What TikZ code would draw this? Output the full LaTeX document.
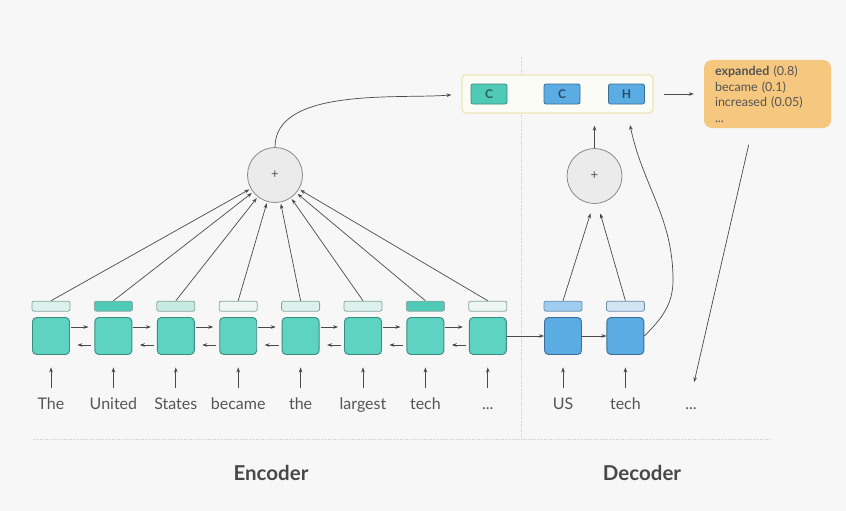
\documentclass[tikz,border=0pt]{standalone}
\usepackage{fontspec}
\setmainfont{Lato}
\usepackage{tikz}
\usetikzlibrary{arrows.meta, positioning, shapes}

\definecolor{bgcol}{HTML}{F7F7F7}
\definecolor{tealcell}{HTML}{5ED3C2}
\definecolor{tealline}{HTML}{3E8A7F}
\definecolor{bluecell}{HTML}{5AACE3}
\definecolor{blueline}{HTML}{3A6E96}
\definecolor{tealdark}{HTML}{4ECAB6}
\definecolor{tealmid}{HTML}{C6EBE1}
\definecolor{tealpale}{HTML}{DDF1EC}
\definecolor{tealwhite}{HTML}{EEF6F4}
\definecolor{barline}{HTML}{8AA8A2}
\definecolor{bluemid}{HTML}{9FCDF0}
\definecolor{bluepale}{HTML}{D0E4F4}
\definecolor{bluebarline}{HTML}{6A8FAE}
\definecolor{arrcol}{HTML}{4A4A4A}
\definecolor{txtgray}{HTML}{555555}
\definecolor{circfill}{HTML}{EBEBEB}
\definecolor{circline}{HTML}{8A8A8A}
\definecolor{ctxline}{HTML}{EDE6B8}
\definecolor{ctxfill}{HTML}{FCFCF6}
\definecolor{outfill}{HTML}{F6C77E}
\definecolor{dotcol}{HTML}{D2D2D2}

\tikzset{
  cell/.style={rounded corners=4pt, minimum width=37pt, minimum height=37pt, inner sep=0pt, line width=0.9pt},
  enc/.style={cell, fill=tealcell, draw=tealline},
  dec/.style={cell, fill=bluecell, draw=blueline},
  bar/.style={rounded corners=2pt, minimum width=38pt, minimum height=10pt, inner sep=0pt, line width=0.8pt, draw=barline},
  dbar/.style={bar, draw=bluebarline},
  word/.style={text=txtgray, font=\fontsize{16}{19}\selectfont, text height=11pt, text depth=3pt, inner sep=2pt},
  sum/.style={circle, draw=circline, fill=circfill, minimum size=55pt, inner sep=0pt, line width=0.8pt, text=txtgray, font=\fontsize{13}{15}\selectfont},
  vec/.style={rounded corners=2pt, minimum width=36pt, minimum height=20pt, inner sep=0pt, line width=0.8pt, font=\fontsize{12}{14}\selectfont\bfseries},
  arr/.style={draw=arrcol, line width=0.7pt}
}

\begin{document}
\begin{tikzpicture}[x=1pt, y=-1pt, node distance=62.4pt, >={Stealth[length=5pt,width=3.6pt]}]
\fill[bgcol] (0,0) rectangle (846,511);
\useasboundingbox (0,0) rectangle (846,511);

% dotted separators
\draw[dotcol, densely dotted, line width=0.8pt] (33,439) -- (770,439);
\draw[dotcol, densely dotted, line width=0.8pt] (521,57) -- (521,439);

% encoder cells
\node[enc] (e1) at (51,336) {};
\node[enc, right of=e1] (e2) {};
\node[enc, right of=e2] (e3) {};
\node[enc, right of=e3] (e4) {};
\node[enc, right of=e4] (e5) {};
\node[enc, right of=e5] (e6) {};
\node[enc, right of=e6] (e7) {};
\node[enc, right of=e7] (e8) {};

% decoder cells
\node[dec] (d1) at (563,336) {};
\node[dec, right of=d1] (d2) {};

% attention bars
\node[bar, fill=tealpale, above=5.5pt of e1] (b1) {};
\node[bar, fill=tealdark, above=5.5pt of e2] (b2) {};
\node[bar, fill=tealmid, above=5.5pt of e3] (b3) {};
\node[bar, fill=tealwhite, above=5.5pt of e4] (b4) {};
\node[bar, fill=tealpale, above=5.5pt of e5] (b5) {};
\node[bar, fill=tealpale, above=5.5pt of e6] (b6) {};
\node[bar, fill=tealdark, above=5.5pt of e7] (b7) {};
\node[bar, fill=tealwhite, above=5.5pt of e8] (b8) {};
\node[dbar, fill=bluemid, above=5.5pt of d1] (db1) {};
\node[dbar, fill=bluepale, above=5.5pt of d2] (db2) {};

% input words
\node[word, below=41.5pt of e1] (w1) {The};
\node[word, below=41.5pt of e2] (w2) {United};
\node[word, below=41.5pt of e3] (w3) {States};
\node[word, below=41.5pt of e4] (w4) {became};
\node[word, below=41.5pt of e5] (w5) {the};
\node[word, below=41.5pt of e6] (w6) {largest};
\node[word, below=41.5pt of e7] (w7) {tech};
\node[word, below=41.5pt of e8] (w8) {...};
\node[word, below=41.5pt of d1] (dw1) {US};
\node[word, below=41.5pt of d2] (dw2) {tech};
\node[word] (dw3) at (691,405) {...};

% sums
\node[sum] (pe) at (275,175) {+};
\node[sum] (pd) at (594.5,176) {+};

% context vector and output
\node[rounded corners=4pt, draw=ctxline, fill=ctxfill, line width=1.3pt, minimum width=191pt, minimum height=38pt] (ctx) at (557.5,94) {};
\node[vec, fill=tealdark, draw=tealline, text=tealline!70!black] (c1) at (489,94) {C};
\node[vec, fill=bluecell, draw=blueline, text=blueline!70!black] (c2) at (562,94) {C};
\node[vec, fill=bluecell, draw=blueline, text=blueline!70!black] (h) at (626.5,94) {H};
\node[rounded corners=8pt, fill=outfill, minimum width=127pt, minimum height=68pt, text width=105pt, align=left, text=txtgray, font=\fontsize{12.5}{15.5}\selectfont] (out) at (767.5,94) {\textbf{expanded} (0.8)\\became (0.1)\\increased (0.05)\\...};

\coordinate (bend) at (673,280);
\coordinate (hin) at (630,125);

% words to cells
\draw[arr] (w1) edge[->, shorten <=8pt, shorten >=12.5pt] (e1)
	(w2) edge[->, shorten <=8pt, shorten >=12.5pt] (e2)
	(w3) edge[->, shorten <=8pt, shorten >=12.5pt] (e3)
	(w4) edge[->, shorten <=8pt, shorten >=12.5pt] (e4)
	(w5) edge[->, shorten <=8pt, shorten >=12.5pt] (e5)
	(w6) edge[->, shorten <=8pt, shorten >=12.5pt] (e6)
	(w7) edge[->, shorten <=8pt, shorten >=12.5pt] (e7)
	(w8) edge[->, shorten <=8pt, shorten >=12.5pt] (e8)
	(dw1) edge[->, shorten <=8pt, shorten >=12.5pt] (d1)
	(dw2) edge[->, shorten <=8pt, shorten >=12.5pt] (d2);

% recurrent links
\draw[arr] ([yshift=9pt]e1.east) edge[->, shorten <=1pt, shorten >=6pt] ([yshift=9pt]e2.west)
	([yshift=9pt]e2.east) edge[->, shorten <=1pt, shorten >=6pt] ([yshift=9pt]e3.west)
	([yshift=9pt]e3.east) edge[->, shorten <=1pt, shorten >=6pt] ([yshift=9pt]e4.west)
	([yshift=9pt]e4.east) edge[->, shorten <=1pt, shorten >=6pt] ([yshift=9pt]e5.west)
	([yshift=9pt]e5.east) edge[->, shorten <=1pt, shorten >=6pt] ([yshift=9pt]e6.west)
	([yshift=9pt]e6.east) edge[->, shorten <=1pt, shorten >=6pt] ([yshift=9pt]e7.west)
	([yshift=9pt]e7.east) edge[->, shorten <=1pt, shorten >=6pt] ([yshift=9pt]e8.west)
	([yshift=-9pt]e2.west) edge[->, shorten <=3pt, shorten >=7.5pt] ([yshift=-9pt]e1.east)
	([yshift=-9pt]e3.west) edge[->, shorten <=3pt, shorten >=7.5pt] ([yshift=-9pt]e2.east)
	([yshift=-9pt]e4.west) edge[->, shorten <=3pt, shorten >=7.5pt] ([yshift=-9pt]e3.east)
	([yshift=-9pt]e5.west) edge[->, shorten <=3pt, shorten >=7.5pt] ([yshift=-9pt]e4.east)
	([yshift=-9pt]e6.west) edge[->, shorten <=3pt, shorten >=7.5pt] ([yshift=-9pt]e5.east)
	([yshift=-9pt]e7.west) edge[->, shorten <=3pt, shorten >=7.5pt] ([yshift=-9pt]e6.east)
	([yshift=-9pt]e8.west) edge[->, shorten <=3pt, shorten >=7.5pt] ([yshift=-9pt]e7.east)
	(e8) edge[->] (d1)
	(d1) edge[->] (d2);

% attention to sums
\draw[arr] (b1.north) edge[->, shorten >=1.5pt] (pe)
	(b2.north) edge[->, shorten >=1.5pt] (pe)
	(b3.north) edge[->, shorten >=1.5pt] (pe)
	(b4.north) edge[->, shorten >=1.5pt] (pe)
	(b5.north) edge[->, shorten >=1.5pt] (pe)
	(b6.north) edge[->, shorten >=1.5pt] (pe)
	(b7.north) edge[->, shorten >=1.5pt] (pe)
	(b8.north) edge[->, shorten >=1.5pt] (pe)
	(db1.north) edge[->, shorten >=10pt] ([xshift=-1pt]pd.south)
	(db2.north) edge[->, shorten >=10pt] ([xshift=3pt]pd.south);

% into the context vector and output
\draw[arr, ->, shorten >=10pt] (pe.north) to[out=90, in=185, looseness=0.8] (ctx.west);
\draw[arr, ->, shorten >=12pt] (pd.north) -- (pd.north |- ctx.south);
\draw[arr, ->] (d2.east) to[out=45, in=-90] (bend) to[out=90, in=-78] (hin);
\draw[arr, ->, shorten <=10pt, shorten >=10pt] (ctx.east) -- (out.west);
\draw[arr, ->, shorten <=17pt, shorten >=14pt] ([xshift=-15pt]out.south) -- (dw3.north);

% labels
\node[font=\fontsize{20.5}{24}\selectfont\bfseries, text=txtgray!85!black] (enclab) at (271,473) {Encoder};
\node[font=\fontsize{20.5}{24}\selectfont\bfseries, text=txtgray!85!black] (declab) at (642,473) {Decoder};
\end{tikzpicture}
\end{document}
